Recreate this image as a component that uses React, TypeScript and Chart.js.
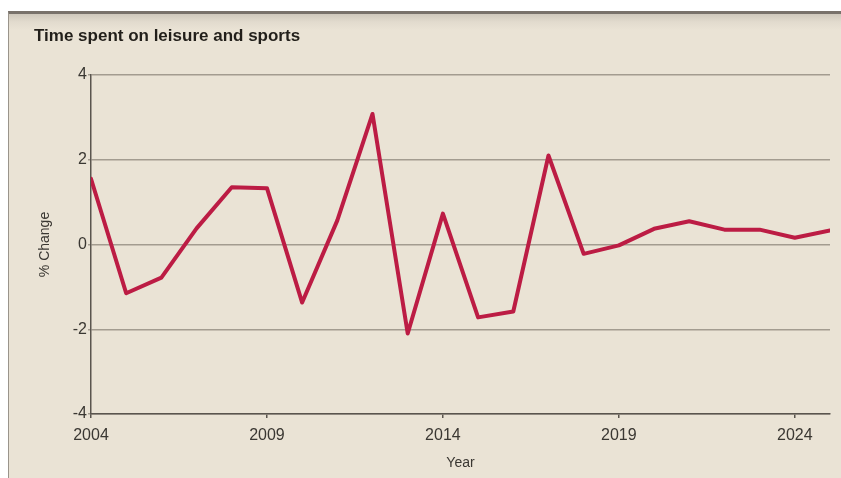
import React, { useEffect, useRef } from "react";
import { Chart, registerables } from "chart.js";

Chart.register(...registerables);

const years = [2004, 2005, 2006, 2007, 2008, 2009, 2010, 2011, 2012, 2013, 2014, 2015, 2016, 2017, 2018, 2019, 2020, 2021, 2022, 2023, 2024, 2025];
const pctChange = [1.55, -1.15, -0.78, 0.38, 1.35, 1.33, -1.37, 0.57, 3.08, -2.1, 0.73, -1.72, -1.58, 2.1, -0.22, -0.02, 0.37, 0.55, 0.35, 0.35, 0.16, 0.33];
const xTickValues = [2004, 2009, 2014, 2019, 2024];
const yTickValues = [-4, -2, 0, 2, 4];
const chartTitle = "Time spent on leisure and sports";
const yAxisTitle = "% Change";
const xAxisTitle = "Year";

export default function App() {
  const canvasRef = useRef<HTMLCanvasElement | null>(null);

  useEffect(() => {
    const canvas = canvasRef.current;
    if (!canvas) return;
    const font = "'Liberation Sans', Arial, sans-serif";
    const chart = new Chart(canvas, {
      type: "line",
      data: {
        datasets: [
          {
            label: chartTitle,
            data: years.map((y, i) => ({ x: y, y: pctChange[i] })),
            borderColor: "#BC1C44",
            borderWidth: 4,
            pointRadius: 0,
            tension: 0,
            borderJoinStyle: "round",
            borderCapStyle: "round",
          },
        ],
      },
      options: {
        responsive: false,
        animation: false,
        layout: { padding: { left: 26, right: 11, top: 0, bottom: 0 } },
        plugins: {
          legend: { display: false },
          tooltip: { enabled: false },
          title: {
            display: true,
            text: chartTitle,
            align: "start",
            color: "#221F1A",
            font: { family: font, size: 17, weight: "bold" },
            padding: { top: 12, bottom: 28.6 },
          },
        },
        scales: {
          x: {
            type: "linear",
            min: 2004,
            max: 2025,
            afterBuildTicks: (scale: any) => {
              scale.ticks = xTickValues.map((v) => ({ value: v }));
            },
            afterFit: (scale: any) => {
              scale.height = 64;
            },
            grid: {
              drawOnChartArea: false,
              drawTicks: true,
              tickLength: 4,
              color: "#5A554E",
              lineWidth: 1.5,
            },
            border: { display: true, color: "#5A554E", width: 1.5 },
            ticks: {
              color: "#3A3732",
              font: { family: font, size: 16 },
              padding: 8,
              maxRotation: 0,
              autoSkip: false,
              callback: (v: any) => String(v),
            },
            title: {
              display: true,
              text: xAxisTitle,
              color: "#3A3732",
              font: { family: font, size: 14 },
              padding: { top: 0, bottom: 6 },
            },
          },
          y: {
            min: -4,
            max: 4,
            afterBuildTicks: (scale: any) => {
              scale.ticks = yTickValues.map((v) => ({ value: v }));
            },
            afterFit: (scale: any) => {
              scale.width = 57;
            },
            grid: {
              drawOnChartArea: true,
              drawTicks: true,
              tickLength: 3,
              color: "#A39C90",
              lineWidth: 1.5,
            },
            border: { display: true, color: "#5A554E", width: 1.5 },
            ticks: {
              color: "#3A3732",
              font: { family: font, size: 16 },
              padding: 1,
              callback: (v: any) => String(v),
            },
            title: {
              display: true,
              text: yAxisTitle,
              color: "#3A3732",
              font: { family: font, size: 14 },
              padding: { top: 3, bottom: 0 },
            },
          },
        },
      },
    });
    return () => chart.destroy();
  }, []);

  return (
    <div
      style={{
        position: "fixed",
        left: 0,
        top: 0,
        width: 841,
        height: 478,
        background: "#FFFFFF",
        overflow: "hidden",
      }}
    >
      <div
        style={{
          position: "absolute",
          left: 8,
          top: 11,
          width: 833,
          height: 467,
          boxSizing: "border-box",
          borderTop: "3px solid #78716A",
          borderLeft: "1px solid #9A948B",
          background: "linear-gradient(to bottom, #CEC7BB 0px, #E2DBCE 8px, #EAE3D5 16px, #EAE3D5 100%)",
        }}
      />
      <canvas
        ref={canvasRef}
        width={833}
        height={464}
        style={{ position: "absolute", left: 8, top: 14, width: 833, height: 464 }}
      />
    </div>
  );
}
